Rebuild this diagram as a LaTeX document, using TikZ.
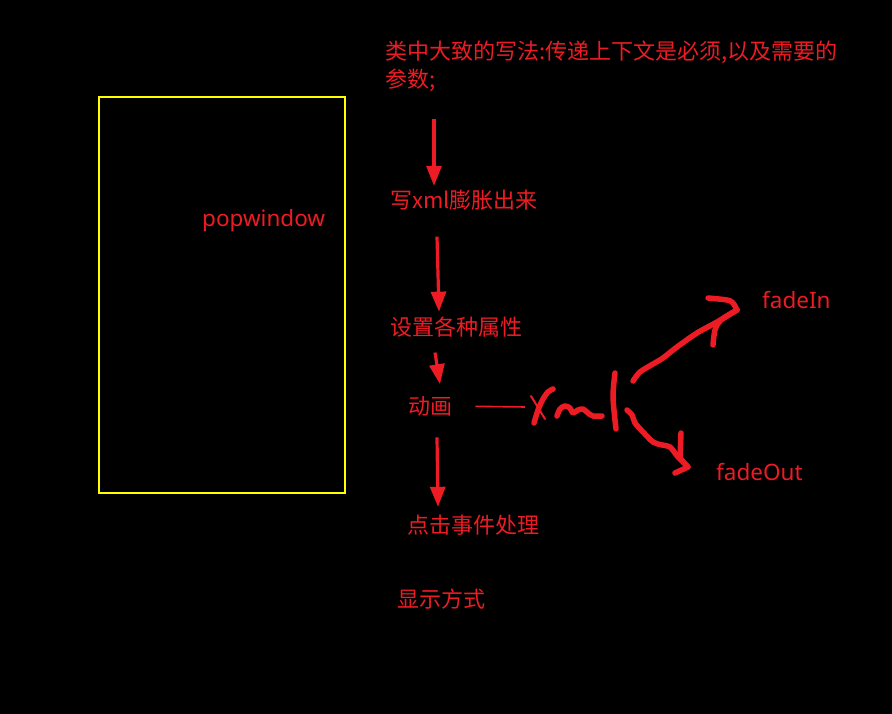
\documentclass[tikz,border=0pt]{standalone}
\usepackage{fontspec}
\newfontfamily\cjk{Noto Sans CJK SC}
\newfontfamily\latinf{Noto Sans}
\usetikzlibrary{arrows.meta,calc}
\definecolor{pred}{HTML}{ED1C24}
\definecolor{pyel}{HTML}{FFFF00}
\begin{document}
\begin{tikzpicture}[x=1pt,y=-1pt,
  lbl/.style={text=pred, font=\cjk\fontsize{22}{28}\selectfont, inner sep=0pt, anchor=base west},
  lat/.style={text=pred, font=\latinf\fontsize{22.5}{26}\selectfont, inner sep=0pt, anchor=base west},
  arr/.style={draw=pred, line width=3.2pt, -{Triangle[length=20pt,width=15pt]}},
  thin/.style={draw=pred, line width=1.6pt},
  hand/.style={draw=pred, line width=5.5pt, line cap=round, line join=round}]
\fill[black] (0,0) rectangle (892,714);
\useasboundingbox (0,0) rectangle (892,714);

% yellow frame
\node[draw=pyel, line width=2pt, minimum width=246pt, minimum height=396pt,
      anchor=north west, inner sep=0pt] (box) at (98,96) {};
\node[lat] (popw) at (202,226.5) {popwindow};

% text column
\node[lbl, align=left] (title) at (385,88) {类中大致的写法:传递上下文是必须,以及需要的\\参数;};
\node[lbl] (inflate) at (390,208.5) {写xml膨胀出来};
\node[lbl] (attrs) at (390,335.5) {设置各种属性};
\node[lbl] (anim) at (408,414.5) {动画};
\node[lbl] (click) at (407,533.5) {点击事件处理};
\node[lbl] (show) at (397,607.5) {显示方式};
\node[lat] (fadein) at (762,308.5) {fadeIn};
\node[lat] (fadeout) at (716,480.5) {fadeOut};

% straight arrows
\draw[arr] ([xshift=49pt,yshift=-27pt]title.south west) -- ([xshift=44pt,yshift=4pt]inflate.north west);
\draw[arr] ([xshift=47pt,yshift=-26pt]inflate.south west) -- ([xshift=49pt,yshift=5pt]attrs.north west);
\draw[arr] ([xshift=45pt,yshift=-15pt]attrs.south west) -- ([xshift=32pt,yshift=12pt]anim.north west);
\draw[arr] ([xshift=29pt,yshift=-21pt]anim.south west) -- ([xshift=31pt,yshift=8pt]click.north west);

% line to handwritten "xml"
\coordinate (xmlstart) at (525,407);
\draw[thin] ([xshift=23pt]anim.east) -- (xmlstart);

% handwritten x
\draw[hand] plot[smooth] coordinates {(553,389) (548,392) (543,399) (538,410) (534,423)};
\draw[pred, line width=2pt, line cap=round] (531,396) -- (545,419);
% handwritten n
\draw[hand] plot[smooth] coordinates {(557,416) (560,409) (565,406) (570,408) (573,413) (578,410) (583,409) (588,413) (593,416) (602,416)};
% handwritten l
\draw[hand] plot[smooth] coordinates {(615,373) (613,397) (616,429)};

% upper hand arrow to fadeIn
\draw[hand] plot[smooth] coordinates {(633,381) (640,372) (653,364) (663,358) (677,347) (697,333) (717,322) (737,310)};
\draw[hand] plot[smooth] coordinates {(708,298) (727,300) (733,303) (737,310)};
\draw[hand] plot[smooth] coordinates {(737,310) (721,320) (715,330) (713,345)};

% lower hand arrow to fadeOut
\draw[hand] plot[smooth] coordinates {(627,410) (632,415) (635,423) (643,432) (653,442) (662,445) (670,447) (678,457) (688,467)};
\draw[hand] (681,433) -- (680,458) -- (688,467) -- (675,473);
\end{tikzpicture}
\end{document}
